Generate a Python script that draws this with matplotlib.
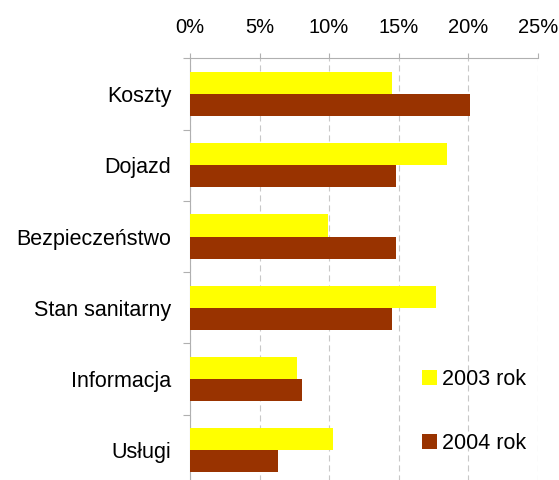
import numpy as np
import matplotlib.pyplot as plt
from matplotlib.ticker import PercentFormatter

categories = ['Koszty', 'Dojazd', 'Bezpieczeństwo', 'Stan sanitarny', 'Informacja', 'Usługi']
rok_2003 = [14.5, 18.5, 9.9, 17.7, 7.7, 10.3]
rok_2004 = [20.1, 14.8, 14.8, 14.5, 8.05, 6.3]
series_labels = ['2003 rok', '2004 rok']
colors = ['#FFFF00', '#993300']

plt.rcParams['font.family'] = ['Liberation Sans', 'DejaVu Sans']

fig = plt.figure(figsize=(5.59, 4.8), dpi=100)
ax = fig.add_axes([0.3399, -0.0125, 0.622, 0.891])

y = np.arange(len(categories))
h = 0.31
ax.barh(y - h / 2, rok_2003, height=h, color=colors[0], label=series_labels[0], zorder=3)
ax.barh(y + h / 2, rok_2004, height=h, color=colors[1], label=series_labels[1], zorder=3)

ax.set_xlim(0, 25)
ax.set_ylim(len(categories) - 0.5, -0.5)
ax.xaxis.set_major_formatter(PercentFormatter(decimals=0))
ax.set_xticks([0, 5, 10, 15, 20, 25])
ax.xaxis.tick_top()
ax.tick_params(axis='x', length=3.6, width=0.8, color='#b0b0b0', pad=12, labelsize=14.5)

ax.set_yticks(y)
ax.set_yticklabels(categories)
ax.set_yticks(np.arange(-0.5, len(categories), 1.0), minor=True)
ax.tick_params(axis='y', which='major', length=0, pad=13.5, labelsize=15.5)
ax.tick_params(axis='y', which='minor', length=5, width=0.8, color='#b0b0b0')

ax.grid(axis='x', color='#c8c8c8', linestyle=(0, (5.5, 3.5)), linewidth=0.8, zorder=0)
ax.set_axisbelow(True)
for s in ['right', 'bottom']:
    ax.spines[s].set_visible(False)
for s in ['top', 'left']:
    ax.spines[s].set_color('#b0b0b0')
    ax.spines[s].set_linewidth(0.8)

fig.legend(loc='center left', bbox_to_anchor=(0.755, 0.142), frameon=False,
           fontsize=15.5, handlelength=0.7, handleheight=0.7, handletextpad=0.25,
           labelspacing=2.0, borderpad=0, borderaxespad=0)

fig.savefig('out.png', dpi=100)
